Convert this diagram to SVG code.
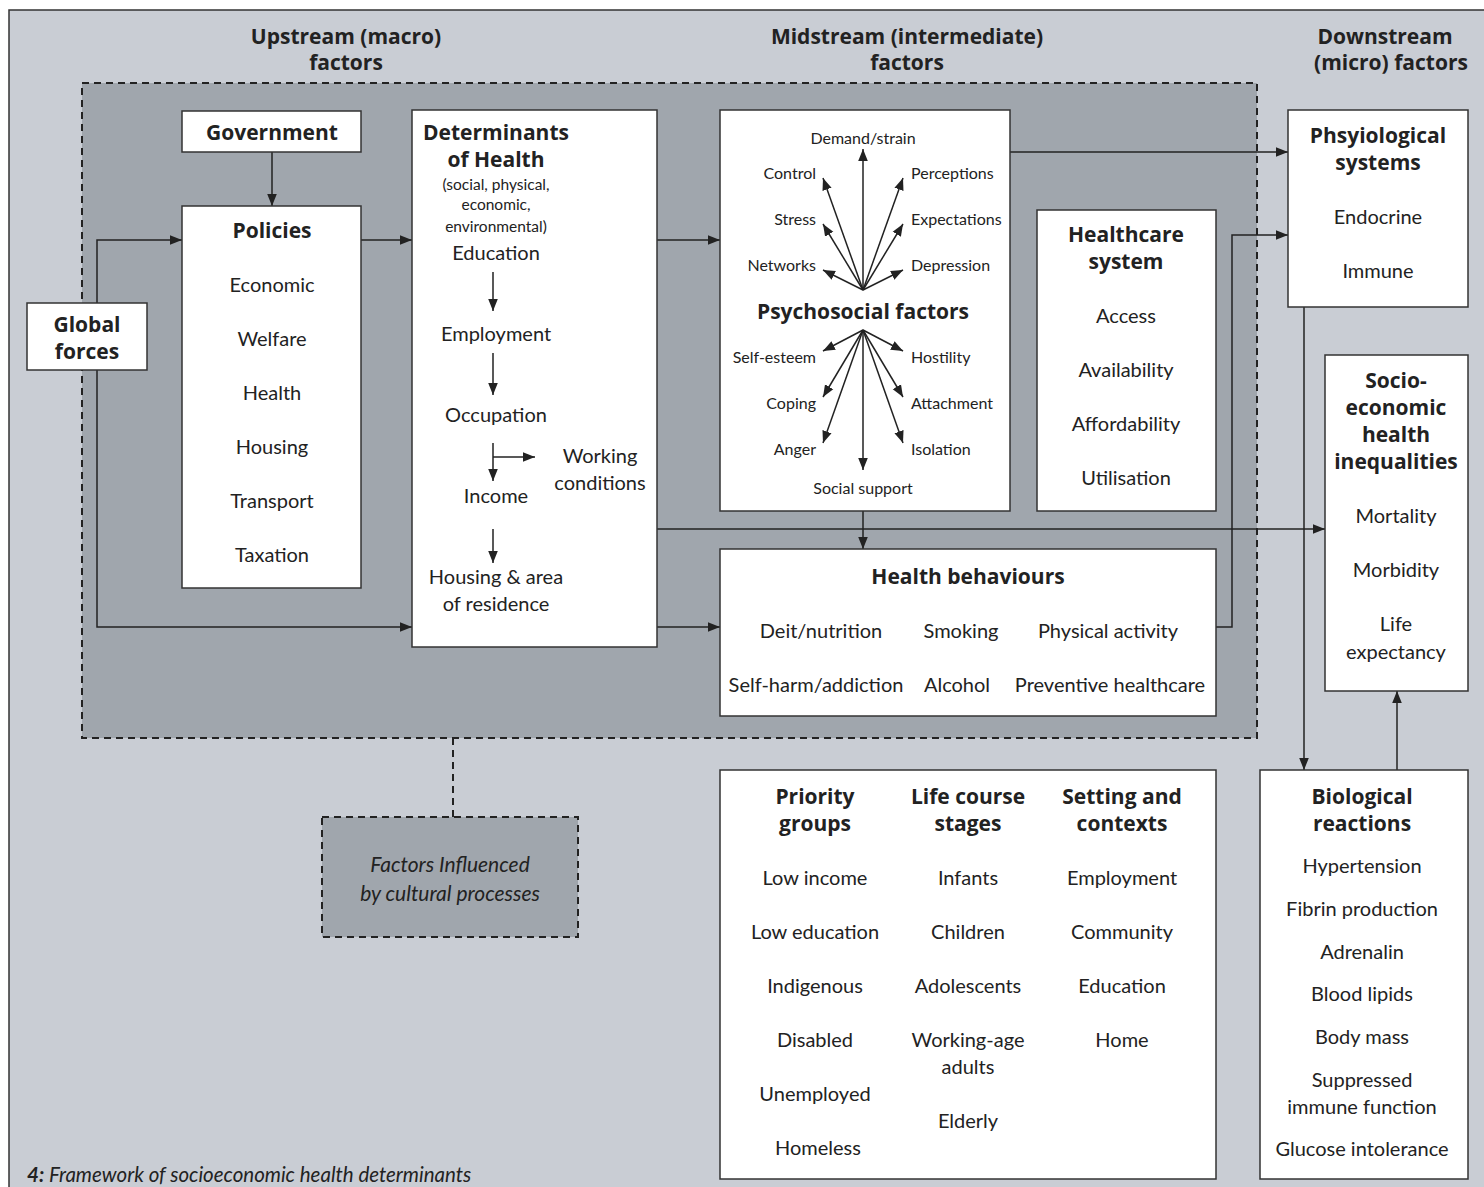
<svg xmlns="http://www.w3.org/2000/svg" width="1484" height="1187" viewBox="0 0 1484 1187">
<style>
text{font-family:Lato,"Liberation Sans",sans-serif;fill:#222;dominant-baseline:central;text-anchor:middle}
.b{font-family:"Open Sans",Lato,sans-serif;font-weight:bold;font-size:21px}
.n{font-size:20px}
.s{font-size:16px}
.xs{font-size:15.5px}
.l{text-anchor:start}
.r{text-anchor:end}
.box{fill:#fff;stroke:#333;stroke-width:1.5}
.c{fill:none;stroke:#222;stroke-width:1.5}
.d{fill:none;stroke:#222;stroke-width:2;stroke-dasharray:7,5}
</style>
<defs>
<marker id="a" viewBox="0 0 10 10" refX="10" refY="5" markerWidth="12" markerHeight="12" markerUnits="userSpaceOnUse" orient="auto"><path d="M0,1 L10,5 L0,9 z" fill="#222"/></marker>
</defs>
<rect x="0" y="0" width="1484" height="1187" fill="#fff"/>
<rect x="9" y="10" width="1490" height="1190" fill="#c9cdd4" stroke="#333" stroke-width="1.5"/>
<rect x="82" y="83" width="1175" height="655" fill="#a0a6ad"/>
<rect x="82" y="83" width="1175" height="655" class="d"/>
<g id="headers">
<text x="346" y="36" class="b">Upstream (macro)</text><text x="346" y="62" class="b">factors</text>
<text x="907" y="36" class="b">Midstream (intermediate)</text><text x="907" y="62" class="b">factors</text>
<text x="1385" y="36" class="b">Downstream</text><text x="1391" y="62" class="b">(micro) factors</text>
</g>
<g id="connectors">
<path class="c" d="M272,152 V206" marker-end="url(#a)"/>
<path class="c" d="M97,303 V240 H182" marker-end="url(#a)"/>
<path class="c" d="M97,370 V627 H412" marker-end="url(#a)"/>
<path class="c" d="M361,240 H412" marker-end="url(#a)"/>
<path class="c" d="M657,240 H720" marker-end="url(#a)"/>
<path class="c" d="M657,627 H720" marker-end="url(#a)"/>
<path class="c" d="M657,529 H1325" marker-end="url(#a)"/>
<path class="c" d="M863,511 V549" marker-end="url(#a)"/>
<path class="c" d="M1010,152 H1288" marker-end="url(#a)"/>
<path class="c" d="M1216,627 H1232 V235 H1288" marker-end="url(#a)"/>
<path class="c" d="M1304,307 V770" marker-end="url(#a)"/>
<path class="c" d="M1397,770 V691" marker-end="url(#a)"/>
<path class="d" d="M453,738 V817"/>
</g>
<g id="government"><rect class="box" x="182" y="111" width="179" height="41"/><text x="272" y="132" class="b">Government</text></g>
<g id="global"><rect class="box" x="27" y="303" width="120" height="67"/><text x="87" y="324" class="b">Global</text><text x="87" y="351" class="b">forces</text></g>
<g id="policies"><rect class="box" x="182" y="206" width="179" height="382"/>
<text x="272" y="230" class="b">Policies</text>
<text x="272" y="284" class="n">Economic</text><text x="272" y="338" class="n">Welfare</text><text x="272" y="392" class="n">Health</text><text x="272" y="446" class="n">Housing</text><text x="272" y="500" class="n">Transport</text><text x="272" y="554" class="n">Taxation</text>
</g>
<g id="determinants"><rect class="box" x="412" y="110" width="245" height="537"/>
<text x="496" y="132" class="b">Determinants</text><text x="496" y="159" class="b">of Health</text>
<text x="496" y="184" class="xs">(social, physical,</text><text x="496" y="204" class="xs">economic,</text><text x="496" y="226" class="xs">environmental)</text>
<text x="496" y="252" class="n">Education</text>
<text x="496" y="333" class="n">Employment</text>
<text x="496" y="414" class="n">Occupation</text>
<text x="496" y="495" class="n">Income</text>
<text x="600" y="455" class="n">Working</text><text x="600" y="482" class="n">conditions</text>
<text x="496" y="576" class="n">Housing &amp; area</text><text x="496" y="603" class="n">of residence</text>
<path class="c" d="M493,272 V311" marker-end="url(#a)"/>
<path class="c" d="M493,353 V395" marker-end="url(#a)"/>
<path class="c" d="M493,443 V481" marker-end="url(#a)"/>
<path class="c" d="M493,457 H535" marker-end="url(#a)"/>
<path class="c" d="M493,529 V563" marker-end="url(#a)"/>
</g>
<g id="psychosocial"><rect class="box" x="720" y="110" width="290" height="401"/>
<text x="863" y="137" class="s">Demand/strain</text>
<text x="816" y="172" class="s r">Control</text><text x="816" y="218" class="s r">Stress</text><text x="816" y="264" class="s r">Networks</text>
<text x="911" y="172" class="s l">Perceptions</text><text x="911" y="218" class="s l">Expectations</text><text x="911" y="264" class="s l">Depression</text>
<text x="863" y="311" class="b">Psychosocial factors</text>
<text x="816" y="356" class="s r">Self-esteem</text><text x="816" y="402" class="s r">Coping</text><text x="816" y="448" class="s r">Anger</text>
<text x="911" y="356" class="s l">Hostility</text><text x="911" y="402" class="s l">Attachment</text><text x="911" y="448" class="s l">Isolation</text>
<text x="863" y="487" class="s">Social support</text>
<g>
<path class="c" d="M863,290 L863,149" marker-end="url(#a)"/>
<path class="c" d="M863,290 L823,178" marker-end="url(#a)"/>
<path class="c" d="M863,290 L823,224" marker-end="url(#a)"/>
<path class="c" d="M863,290 L823,270" marker-end="url(#a)"/>
<path class="c" d="M863,290 L903,178" marker-end="url(#a)"/>
<path class="c" d="M863,290 L903,224" marker-end="url(#a)"/>
<path class="c" d="M863,290 L903,270" marker-end="url(#a)"/>
<path class="c" d="M863,330 L823,351" marker-end="url(#a)"/>
<path class="c" d="M863,330 L823,397" marker-end="url(#a)"/>
<path class="c" d="M863,330 L823,443" marker-end="url(#a)"/>
<path class="c" d="M863,330 L863,470" marker-end="url(#a)"/>
<path class="c" d="M863,330 L903,351" marker-end="url(#a)"/>
<path class="c" d="M863,330 L903,397" marker-end="url(#a)"/>
<path class="c" d="M863,330 L903,443" marker-end="url(#a)"/>
</g>
</g>
<g id="healthcare"><rect class="box" x="1037" y="210" width="179" height="301"/>
<text x="1126" y="234" class="b">Healthcare</text><text x="1126" y="261" class="b">system</text>
<text x="1126" y="315" class="n">Access</text><text x="1126" y="369" class="n">Availability</text><text x="1126" y="423" class="n">Affordability</text><text x="1126" y="477" class="n">Utilisation</text>
</g>
<g id="behaviours"><rect class="box" x="720" y="549" width="496" height="167"/>
<text x="968" y="576" class="b">Health behaviours</text>
<text x="821" y="630" class="n">Deit/nutrition</text><text x="961" y="630" class="n">Smoking</text><text x="1108" y="630" class="n">Physical activity</text>
<text x="816" y="684" class="n">Self-harm/addiction</text><text x="957" y="684" class="n">Alcohol</text><text x="1110" y="684" class="n">Preventive healthcare</text>
</g>
<g id="physiological"><rect class="box" x="1288" y="110" width="180" height="197"/>
<text x="1378" y="135" class="b">Phsyiological</text><text x="1378" y="162" class="b">systems</text>
<text x="1378" y="216" class="n">Endocrine</text><text x="1378" y="270" class="n">Immune</text>
</g>
<g id="inequalities"><rect class="box" x="1325" y="355" width="143" height="336"/>
<text x="1396" y="380" class="b">Socio-</text><text x="1396" y="407" class="b">economic</text><text x="1396" y="434" class="b">health</text><text x="1396" y="461" class="b">inequalities</text>
<text x="1396" y="515" class="n">Mortality</text><text x="1396" y="569" class="n">Morbidity</text><text x="1396" y="623" class="n">Life</text><text x="1396" y="651" class="n">expectancy</text>
</g>
<g id="biological"><rect class="box" x="1260" y="770" width="208" height="409"/>
<text x="1362" y="796" class="b">Biological</text><text x="1362" y="823" class="b">reactions</text>
<text x="1362" y="865" class="n">Hypertension</text><text x="1362" y="908" class="n">Fibrin production</text><text x="1362" y="951" class="n">Adrenalin</text><text x="1362" y="993" class="n">Blood lipids</text><text x="1362" y="1036" class="n">Body mass</text><text x="1362" y="1079" class="n">Suppressed</text><text x="1362" y="1106" class="n">immune function</text><text x="1362" y="1148" class="n">Glucose intolerance</text>
</g>
<g id="groups"><rect class="box" x="720" y="770" width="496" height="409"/>
<text x="815" y="796" class="b">Priority</text><text x="815" y="823" class="b">groups</text>
<text x="815" y="877" class="n">Low income</text><text x="815" y="931" class="n">Low education</text><text x="815" y="985" class="n">Indigenous</text><text x="815" y="1039" class="n">Disabled</text><text x="815" y="1093" class="n">Unemployed</text><text x="818" y="1147" class="n">Homeless</text>
<text x="968" y="796" class="b">Life course</text><text x="968" y="823" class="b">stages</text>
<text x="968" y="877" class="n">Infants</text><text x="968" y="931" class="n">Children</text><text x="968" y="985" class="n">Adolescents</text><text x="968" y="1039" class="n">Working-age</text><text x="968" y="1066" class="n">adults</text><text x="968" y="1120" class="n">Elderly</text>
<text x="1122" y="796" class="b">Setting and</text><text x="1122" y="823" class="b">contexts</text>
<text x="1122" y="877" class="n">Employment</text><text x="1122" y="931" class="n">Community</text><text x="1122" y="985" class="n">Education</text><text x="1122" y="1039" class="n">Home</text>
</g>
<g id="cultural"><rect x="322" y="817" width="256" height="120" fill="#a0a6ad"/><rect x="322" y="817" width="256" height="120" class="d"/>
<text x="450" y="863" class="n" style="font-style:italic;font-size:21px">Factors Influenced</text><text x="450" y="892" class="n" style="font-style:italic;font-size:21px">by cultural processes</text>
</g>
<text x="27" y="1174" class="l" style="font-size:20.5px;font-style:italic"><tspan font-weight="bold">4:</tspan> Framework of socioeconomic health determinants</text>
</svg>
